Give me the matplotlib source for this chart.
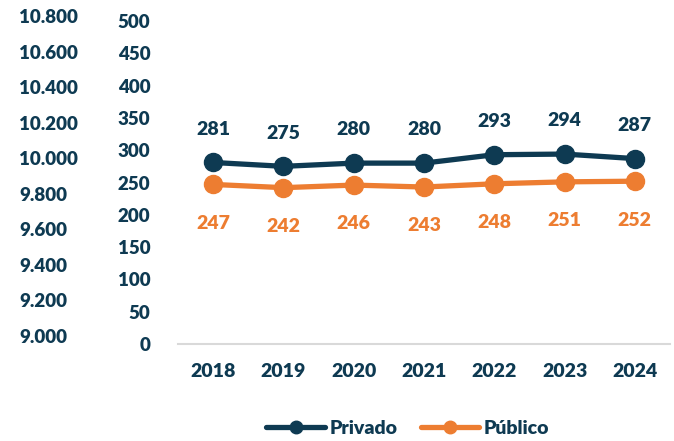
import matplotlib
matplotlib.use("Agg")
import matplotlib.pyplot as plt
from matplotlib.lines import Line2D
from matplotlib.transforms import ScaledTranslation

years = ["2018", "2019", "2020", "2021", "2022", "2023", "2024"]
privado = [281, 275, 280, 280, 293, 294, 287]
publico = [247, 242, 246, 243, 248, 251, 252]
inner_ticks = [0, 50, 100, 150, 200, 250, 300, 350, 400, 450, 500]
outer_ticks = [9000, 9200, 9400, 9600, 9800, 10000, 10200, 10400, 10600, 10800]
outer_labels = ["9.000", "9.200", "9.400", "9.600", "9.800", "10.000", "10.200", "10.400", "10.600", "10.800"]

navy = "#0E3A52"
orange = "#ED7D31"
plt.rcParams['font.family'] = ['Lato', 'DejaVu Sans']
W_ = 'heavy'

W, H = 674, 441
fig = plt.figure(figsize=(W/100, H/100), dpi=100)

def rect(x0, y0, x1, y1):
    return [x0/W, 1 - y1/H, (x1-x0)/W, (y1-y0)/H]

ax = fig.add_axes(rect(178, 21, 670, 344))
x = list(range(len(years)))
ax.plot(x, privado, color=navy, lw=3.8, marker='o', ms=13, solid_capstyle='round')
ax.plot(x, publico, color=orange, lw=3.8, marker='o', ms=13, solid_capstyle='round')
for i, (p, q) in enumerate(zip(privado, publico)):
    ax.annotate(str(p), (i, p), xytext=(0, 24), textcoords='offset points',
                ha='center', va='center', color=navy, fontsize=14, fontweight=W_)
    ax.annotate(str(q), (i, q), xytext=(0, -28), textcoords='offset points',
                ha='center', va='center', color=orange, fontsize=14, fontweight=W_)
ax.set_xlim(-0.5, len(years) - 0.5)
ax.set_ylim(0, 500)
ax.set_xticks(x)
ax.set_xticklabels(years, fontsize=14, fontweight=W_, color=navy)
ax.set_yticks(inner_ticks)
ax.set_yticklabels([str(t) for t in inner_ticks], fontsize=13.5, fontweight=W_, color=navy)
ax.tick_params(axis='both', length=0)
ax.tick_params(axis='x', pad=14)
ax.tick_params(axis='y', pad=20)
for s in ['top', 'right', 'left']:
    ax.spines[s].set_visible(False)
ax.spines['bottom'].set_color('#D9D9D9')
ax.spines['bottom'].set_linewidth(1.5)

ax2 = fig.add_axes(rect(19, 16, 20, 336))
ax2.set_ylim(9000, 10800)
ax2.set_yticks(outer_ticks)
ax2.set_yticklabels(outer_labels, fontsize=13.5, fontweight=W_, color=navy, ha='left')
ax2.tick_params(axis='y', length=0, pad=0)
ax2.set_xticks([])
for s in ax2.spines.values():
    s.set_visible(False)
ax2.patch.set_visible(False)
for lab in ax2.get_yticklabels():
    lab.set_transform(ax2.get_yaxis_transform() + ScaledTranslation(0, 0, fig.dpi_scale_trans))

handles = [Line2D([], [], color=navy, lw=3.8, marker='o', ms=9, solid_capstyle='round'),
           Line2D([], [], color=orange, lw=3.8, marker='o', ms=9, solid_capstyle='round')]
fig.legend(handles, ["Privado", "Público"], loc='center', bbox_to_anchor=(408/W, 1 - 428/H),
           ncol=2, frameon=False, prop={'size': 14, 'weight': W_}, labelcolor=navy,
           handlelength=3.0, columnspacing=1.2, handletextpad=0.25)

fig.savefig("out.png", dpi=100)
